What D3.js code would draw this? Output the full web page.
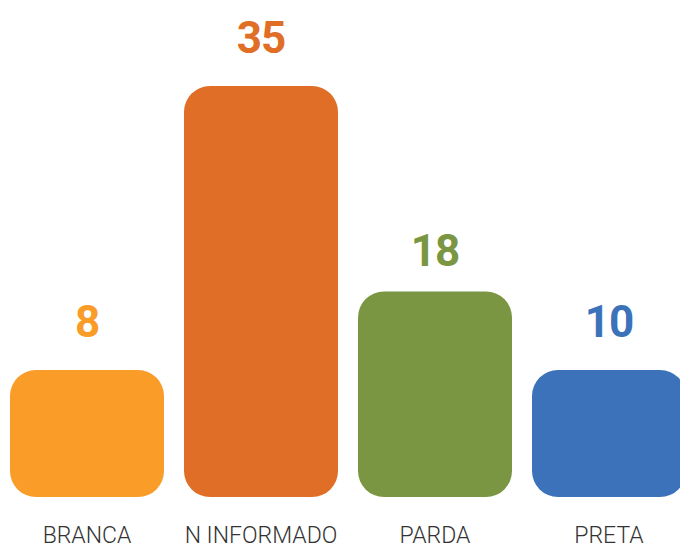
<!DOCTYPE html>
<html>
<head>
<meta charset="utf-8">
<script src="https://cdn.jsdelivr.net/npm/d3@7"></script>
<style>
  html, body { margin: 0; padding: 0; background: #fff; overflow: hidden; }
</style>
</head>
<body>
<div id="chart"></div>
<script>
// Dados
const categorias = ['BRANCA', 'N INFORMADO', 'PARDA', 'PRETA'];
const valores = [8, 35, 18, 10];
const cores = ['#F99C28', '#E06E27', '#7B9642', '#3C72B9'];

const width = 680;
const height = 548;
const base = 497;
const minAltura = 127;

const svg = d3.select('#chart')
  .append('svg')
  .attr('width', width)
  .attr('height', height);

// Escalas
const x = d3.scaleBand()
  .domain(categorias)
  .range([0, 696])
  .paddingInner(20 / 174)
  .paddingOuter(10 / 174);

const y = d3.scaleLinear()
  .domain([1, 35])
  .range([base, 86]);

// barras pequenas têm altura mínima
const topo = v => Math.min(y(v), base - minAltura);

const dados = categorias.map((c, i) => ({ cat: c, valor: valores[i], cor: cores[i] }));

// Barras
svg.selectAll('.bar')
  .data(dados)
  .enter()
  .append('rect')
  .attr('class', 'bar')
  .attr('x', d => x(d.cat))
  .attr('y', d => topo(d.valor))
  .attr('width', x.bandwidth())
  .attr('height', d => base - topo(d.valor))
  .attr('rx', 26)
  .attr('ry', 26)
  .attr('fill', d => d.cor);

// Valores
svg.selectAll('.valor')
  .data(dados)
  .enter()
  .append('text')
  .attr('class', 'valor')
  .attr('x', d => x(d.cat) + x.bandwidth() / 2)
  .attr('y', d => topo(d.valor) - (d.valor === 18 ? 26 : 33))
  .attr('text-anchor', 'middle')
  .attr('font-family', 'Roboto, sans-serif')
  .attr('font-weight', 700)
  .attr('font-size', '44px')
  .attr('letter-spacing', '-1px')
  .attr('fill', d => d.cor)
  .text(d => d.valor);

// Rótulos das categorias
svg.selectAll('.cat')
  .data(dados)
  .enter()
  .append('text')
  .attr('class', 'cat')
  .attr('x', d => x(d.cat) + x.bandwidth() / 2)
  .attr('y', 543)
  .attr('text-anchor', 'middle')
  .attr('font-family', 'Roboto, sans-serif')
  .attr('font-weight', 300)
  .attr('font-size', '23px')
  .attr('fill', '#333')
  .text(d => d.cat);
</script>
</body>
</html>
